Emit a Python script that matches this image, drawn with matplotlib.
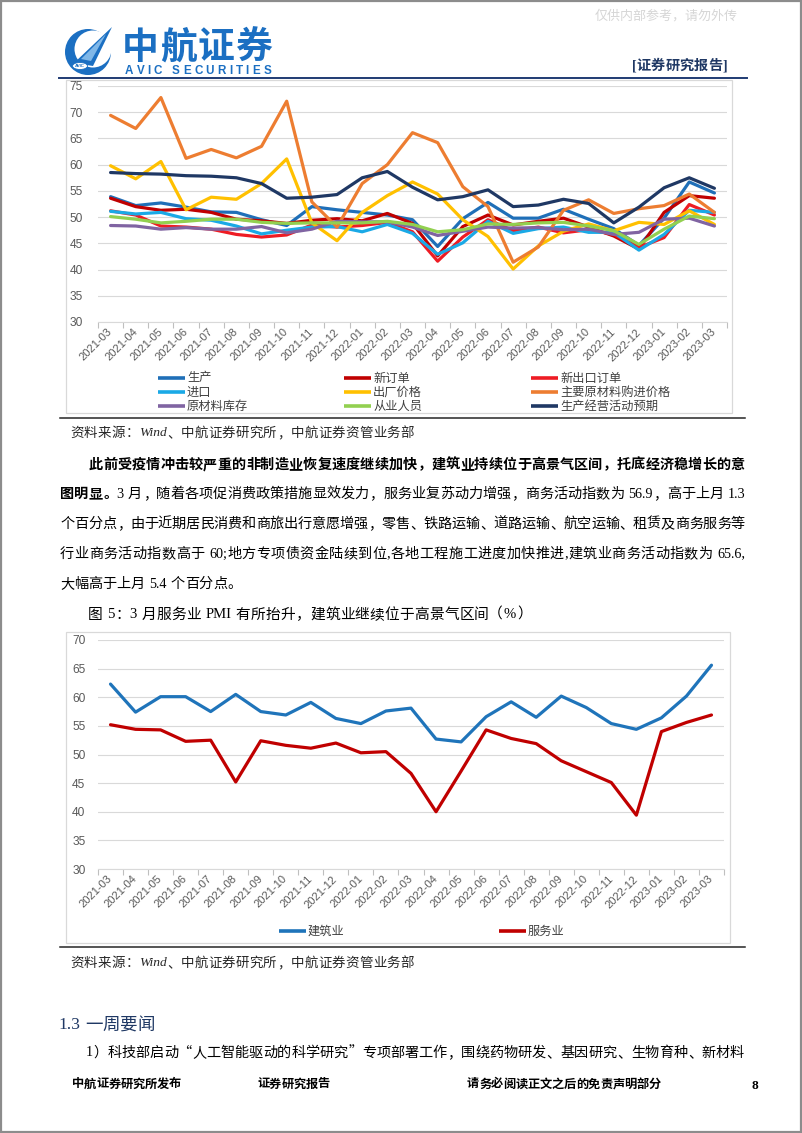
import matplotlib
matplotlib.use('Agg')
import matplotlib.pyplot as plt
from matplotlib.patches import Rectangle, Circle, Polygon, Ellipse
import numpy as np

W, H = 802, 1133
CJK = 'Noto Sans CJK SC'
SERIF_MIX = ['Liberation Serif', CJK]
LABEL_FONT = 'Liberation Sans'

# ---- data -----------------------------------------------------------------
months = ['2021-03', '2021-04', '2021-05', '2021-06', '2021-07', '2021-08',
          '2021-09', '2021-10', '2021-11', '2021-12', '2022-01', '2022-02',
          '2022-03', '2022-04', '2022-05', '2022-06', '2022-07', '2022-08',
          '2022-09', '2022-10', '2022-11', '2022-12', '2023-01', '2023-02',
          '2023-03']

production = [53.9, 52.2, 52.7, 51.9, 51.0, 50.9, 49.5, 48.4, 52.0, 51.4, 50.9, 50.4, 49.5,
              44.4, 49.7, 52.8, 49.8, 49.8, 51.5, 49.6, 47.8, 44.6, 49.8, 56.7, 54.6]
new_orders = [53.6, 52.0, 51.3, 51.5, 50.9, 49.6, 49.3, 48.8, 49.4, 49.7, 49.3, 50.7, 48.8,
              42.6, 48.2, 50.4, 48.5, 49.2, 49.8, 48.1, 46.4, 43.9, 50.9, 54.1, 53.6]
export_orders = [51.2, 50.4, 48.3, 48.1, 47.7, 46.7, 46.2, 46.6, 48.5, 48.1, 48.4, 49.0, 47.2,
                 41.6, 46.2, 49.5, 47.4, 48.1, 47.0, 47.6, 46.7, 44.2, 46.1, 52.4, 50.4]
imports = [51.1, 50.6, 50.9, 49.7, 49.4, 48.3, 46.8, 47.5, 48.1, 48.2, 47.2, 48.6, 46.9,
           42.9, 45.1, 49.2, 46.9, 47.8, 48.1, 47.1, 47.1, 43.7, 46.7, 51.3, 50.9]
output_price = [59.8, 57.3, 60.6, 51.4, 53.8, 53.4, 56.4, 61.1, 48.9, 45.5, 50.9, 54.1, 56.7,
                54.4, 49.5, 46.3, 40.1, 44.5, 47.3, 48.7, 47.4, 49.0, 48.6, 51.2, 48.6]
input_price = [69.4, 66.9, 72.8, 61.2, 62.9, 61.3, 63.5, 72.1, 52.9, 48.1, 56.4, 60.0, 66.1,
               64.2, 55.8, 52.0, 41.4, 44.3, 51.3, 53.3, 50.7, 51.6, 52.2, 54.4, 50.9]
raw_stock = [48.4, 48.3, 47.7, 48.0, 47.7, 47.7, 48.2, 47.0, 47.7, 49.2, 49.1, 49.1, 48.1,
             46.5, 47.3, 48.1, 47.9, 48.0, 47.6, 47.7, 46.7, 47.1, 49.6, 49.8, 48.3]
employment = [50.1, 49.6, 48.9, 49.2, 49.6, 49.6, 49.0, 48.8, 48.9, 48.9, 48.9, 49.2, 48.6,
              47.2, 47.6, 48.7, 48.6, 48.9, 49.0, 48.3, 47.4, 44.8, 47.7, 50.2, 49.7]
expectation = [58.5, 58.3, 58.2, 57.9, 57.8, 57.5, 56.4, 53.6, 53.8, 54.3, 57.5, 58.7, 55.7,
               53.3, 53.9, 55.2, 52.0, 52.3, 53.4, 52.6, 48.9, 51.9, 55.6, 57.5, 55.5]

mfg_names = ['生产', '新订单', '新出口订单', '进口', '出厂价格', '主要原材料购进价格',
             '原材料库存', '从业人员', '生产经营活动预期']
mfg_series = [production, new_orders, export_orders, imports, output_price, input_price,
              raw_stock, employment, expectation]
mfg_colors = ['#1f6fb8', '#c00000', '#ee1c24', '#1aa9e6', '#ffc000', '#ed7d31',
              '#8064a2', '#92d050', '#1f3864']

construction = [62.3, 57.4, 60.1, 60.1, 57.5, 60.5, 57.5, 56.9, 59.1, 56.3, 55.4, 57.6, 58.1,
                52.7, 52.2, 56.6, 59.2, 56.5, 60.2, 58.2, 55.4, 54.4, 56.4, 60.2, 65.6]
services = [55.2, 54.4, 54.3, 52.3, 52.5, 45.2, 52.4, 51.6, 51.1, 52.0, 50.3, 50.5, 46.7,
            40.0, 47.1, 54.3, 52.8, 51.9, 48.9, 47.0, 45.1, 39.4, 54.0, 55.6, 56.9]
nonmfg_names = ['建筑业', '服务业']
nonmfg_colors = ['#1f74ba', '#c00000']

# ---- page canvas in pixel coordinates --------------------------------------
fig = plt.figure(figsize=(W / 100, H / 100), dpi=100)
page = fig.add_axes([0, 0, 1, 1], zorder=0)
page.set_xlim(0, W)
page.set_ylim(H, 0)
page.axis('off')
renderer = fig.canvas.get_renderer()


def tokens(s, split_all=False):
    out, buf = [], ''
    for ch in s:
        if split_all or ord(ch) >= 0x2000 or ch == ' ':
            if buf:
                out.append(buf)
                buf = ''
            out.append(ch)
        else:
            buf += ch
    if buf:
        out.append(buf)
    return out


def put_line(y, x0, segs, size, x1=None, color='black', style='normal', split_all=False,
             latin=SERIF_MIX):
    em = size * 100 / 72
    items = []
    for s, wt in segs:
        for tk in tokens(s, split_all):
            items.append((tk, wt))
    arts, widths = [], []
    for tk, wt in items:
        if tk == ' ':
            arts.append(None)
            widths.append(0.28 * em)
            continue
        cjk = ord(tk[0]) >= 0x2000
        fam = [CJK] if cjk else latin
        t = page.text(0, y, tk, fontsize=size, fontweight=wt, family=fam, va='center',
                      ha='left', color=color, style=style)
        if cjk:
            w = em
        else:
            w = t.get_window_extent(renderer).width
        arts.append((t, cjk))
        widths.append(w)
    gap = 0
    if x1 is not None and len(items) > 1:
        gap = (x1 - x0 - sum(widths)) / (len(items) - 1)
    x = x0
    for a, w in zip(arts, widths):
        if a is not None:
            t, cjk = a
            ch = t.get_text()
            if not cjk:
                t.set_x(x)
            elif ch in '，。、；：）”':
                t.set_x(x + 0.05 * em)
            elif ch in '（“':
                t.set_ha('right')
                t.set_x(x + 0.95 * em)
            else:
                t.set_ha('center')
                t.set_x(x + em / 2)
        x += w + gap


# page frame
page.add_patch(Rectangle((0.8, 0.8), W - 1.6, H - 1.6, fill=False, ec='#8c8c8c', lw=1.6))

# ---- header ----------------------------------------------------------------
blue = '#1b6fc2'
page.text(666, 16, '仅供内部参考，请勿外传', fontsize=9.4, family=CJK, color='#d6d6d6',
          ha='center', va='center')
page.add_patch(Circle((88, 52), 23, fc=blue, ec='none'))
page.add_patch(Circle((93, 49), 18.5, fc='white', ec='none'))
page.add_patch(Polygon([(74, 63), (112, 27), (93, 66)], closed=True, fc=blue, ec='none'))
page.add_patch(Polygon([(81, 59), (106, 34), (91, 61)], closed=True, fc='#7fb7e8', ec='none'))
page.add_patch(Ellipse((80, 66), 15, 7, fc='white', ec=blue, lw=0.6))
page.text(80, 66.3, 'AVIC', fontsize=3.2, color=blue, ha='center', va='center',
          fontweight='bold', family=LABEL_FONT)
put_line(48, 122, [('中航证券', 'bold')], 26.5, x1=272, color=blue)
put_line(71.5, 125, [('AVIC SECURITIES', 'bold')], 8.4, x1=271, color=blue,
         split_all=True, latin=[LABEL_FONT])
put_line(66, 632, [('[证券研究报告]', 'bold')], 10.2, x1=727, color='#1f3864')
page.plot([59, 747], [78, 78], color='#1f3b73', lw=1.4)


# ---- chart helpers ---------------------------------------------------------
def chart_axes(left, top, right, bottom, ymin, ymax, ypad):
    ax = fig.add_axes([left / W, 1 - bottom / H, (right - left) / W, (bottom - top) / H],
                      zorder=2)
    ax.set_facecolor('none')
    for s in ['top', 'left', 'right']:
        ax.spines[s].set_visible(False)
    ax.spines['bottom'].set_color('#d9d9d9')
    ax.spines['bottom'].set_linewidth(0.8)
    ax.set_ylim(ymin, ymax)
    ax.set_yticks(np.arange(ymin, ymax + 1, 5))
    ax.grid(axis='y', color='#d9d9d9', lw=0.8)
    ax.set_axisbelow(True)
    ax.tick_params(axis='y', length=0, pad=ypad, labelsize=8.6, labelcolor='#595959')
    for lb in ax.get_yticklabels():
        lb.set_family(LABEL_FONT)
    x = np.arange(len(months))
    ax.set_xlim(-0.5, len(months) - 0.5)
    ax.set_xticks(x)
    ax.set_xticklabels(months, rotation=45, ha='right', va='center', rotation_mode='anchor',
                       fontsize=8, color='#595959', family=LABEL_FONT)
    ax.tick_params(axis='x', which='major', length=0, pad=6)
    ax.set_xticks(np.arange(-0.5, len(months), 1), minor=True)
    ax.tick_params(axis='x', which='minor', length=4, width=0.8, color='#bfbfbf')
    return ax, x


def legend_entry(x, y, color, label):
    page.plot([x, x + 27], [y, y], color=color, lw=2.6, solid_capstyle='butt')
    page.text(x + 29, y, label, fontsize=8.8, family=CJK, color='#404040', va='center',
              ha='left')


def source_note(y):
    put_line(y, 70, [('资料来源：', 'normal'), ('Wind', 'normal'),
                     ('、中航证券研究所，中航证券资管业务部', 'normal')],
             9.7, x1=414, color='#262626', style='italic')


# ---- chart 1 ---------------------------------------------------------------
page.add_patch(Rectangle((66, 80), 666, 333, fill=False, ec='#d9d9d9', lw=0.9))
ax1, x = chart_axes(98, 86, 727, 322, 30, 75, 11)
for vals, col in zip(mfg_series, mfg_colors):
    ax1.plot(x, vals, color=col, lw=2.3, solid_joinstyle='round', solid_capstyle='round')

leg_cols = [158, 344, 531]
leg_rows = [378, 392, 406]
for i, (name, col) in enumerate(zip(mfg_names, mfg_colors)):
    legend_entry(leg_cols[i % 3], leg_rows[i // 3], col, name)
page.plot([60, 745], [418, 418], color='#262626', lw=1.1)
source_note(433)

# ---- text ------------------------------------------------------------------
body = 10.2
put_line(465, 89, [('此前受疫情冲击较严重的非制造业恢复速度继续加快，建筑业持续位于高景气区间，托底经济稳增长的意',
                    'bold')], body, x1=745)
put_line(494, 60, [('图明显。', 'bold'),
                   ('3 月，随着各项促消费政策措施显效发力，服务业复苏动力增强，商务活动指数为 56.9，高于上月 1.3',
                    'normal')], body, x1=745)
put_line(524, 60, [('个百分点，由于近期居民消费和商旅出行意愿增强，零售、铁路运输、道路运输、航空运输、租赁及商务服务等',
                    'normal')], body, x1=745)
put_line(554, 60, [('行业商务活动指数高于 60;地方专项债资金陆续到位,各地工程施工进度加快推进,建筑业商务活动指数为 65.6,',
                    'normal')], body, x1=745)
put_line(584, 60, [('大幅高于上月 5.4 个百分点。', 'normal')], body)
put_line(615, 88, [('图 5：3 月服务业 PMI 有所抬升，建筑业继续位于高景气区间（%）', 'normal')],
         10.6, x1=531)

# ---- chart 2 ---------------------------------------------------------------
page.add_patch(Rectangle((66, 632), 664, 311, fill=False, ec='#d9d9d9', lw=0.9))
ax2, x = chart_axes(98, 640, 724, 869, 30, 70, 9)
for vals, col in zip([construction, services], nonmfg_colors):
    ax2.plot(x, vals, color=col, lw=2.3, solid_joinstyle='round', solid_capstyle='round')
legend_entry(279, 931, nonmfg_colors[0], nonmfg_names[0])
legend_entry(499, 931, nonmfg_colors[1], nonmfg_names[1])
page.plot([60, 745], [947, 947], color='#262626', lw=1.1)
source_note(963)

# ---- section + footer ------------------------------------------------------
put_line(1025, 58, [('1.3 一周要闻', 'normal')], 12.6, x1=155, color='#1f3864')
put_line(1053, 86, [('1）科技部启动“人工智能驱动的科学研究”专项部署工作，围绕药物研发、基因研究、生物育种、新材料',
                     'normal')], body, x1=744)
put_line(1084, 72, [('中航证券研究所发布', 'bold')], 8.8, x1=181)
put_line(1084, 257, [('证券研究报告', 'bold')], 8.8, x1=330)
put_line(1084, 467, [('请务必阅读正文之后的免责声明部分', 'bold')], 8.8, x1=661)
page.text(755, 1086, '8', fontsize=9.5, fontweight='bold', family='Liberation Serif',
          ha='center', va='center')

fig.savefig('out.png', dpi=100)
